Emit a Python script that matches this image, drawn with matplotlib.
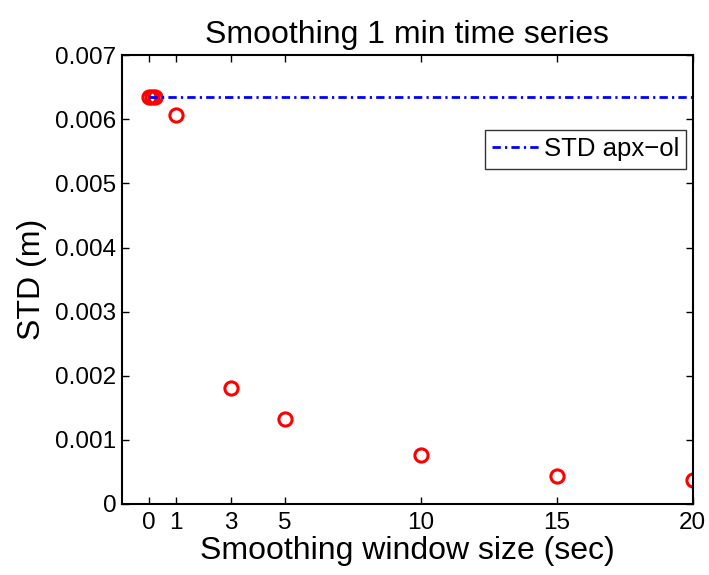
import matplotlib
matplotlib.use("Agg")
import matplotlib.pyplot as plt

plt.rcParams['font.family'] = ['Liberation Sans', 'DejaVu Sans']

window = [0.0, 0.1, 0.2, 1, 3, 5, 10, 15, 20]
std_vals = [0.00635, 0.00635, 0.00635, 0.00607, 0.00181, 0.00133, 0.00076, 0.00044, 0.00037]
ref_x = [0, 20]
ref_std = [0.00635, 0.00635]
xticks = [0, 1, 3, 5, 10, 15, 20]
yticks = [0, 0.001, 0.002, 0.003, 0.004, 0.005, 0.006, 0.007]
ytick_labels = ['0', '0.001', '0.002', '0.003', '0.004', '0.005', '0.006', '0.007']

fig = plt.figure(figsize=(7.09, 5.75), dpi=100)
ax = fig.add_axes([0.172, 0.1235, 0.805, 0.7805])

ax.plot(window, std_vals, linestyle='none', marker='o', markersize=9.5,
        markerfacecolor='none', markeredgecolor='red', markeredgewidth=2.2)
ax.plot(ref_x, ref_std, color='blue', linestyle=(0, (3.0, 1.5, 0.8, 1.5)),
        linewidth=2.0, label='STD apx\u2212ol')

ax.set_xlim(-1, 20)
ax.set_ylim(0, 0.007)
ax.set_xticks(xticks)
ax.set_xticklabels([str(t) for t in xticks])
ax.set_yticks(yticks)
ax.set_yticklabels(ytick_labels)
ax.tick_params(direction='in', top=True, right=True, labelsize=17.5, length=5, width=1)
ax.tick_params(axis='x', pad=6)
ax.tick_params(axis='y', pad=4)
for s in ax.spines.values():
    s.set_linewidth(1.5)

ax.set_title('Smoothing 1 min time series', fontsize=23, pad=9)
ax.set_xlabel('Smoothing window size (sec)', fontsize=23, labelpad=1)
ax.set_ylabel('STD (m)', fontsize=23, labelpad=6)

leg = ax.legend(loc='upper right', bbox_to_anchor=(0.989, 0.833), borderaxespad=0,
                fontsize=18.5, frameon=True, fancybox=False, edgecolor='black',
                handlelength=1.8, handletextpad=0.2, borderpad=0.28)
leg.get_frame().set_linewidth(1.0)

fig.savefig('out.png', dpi=100)
